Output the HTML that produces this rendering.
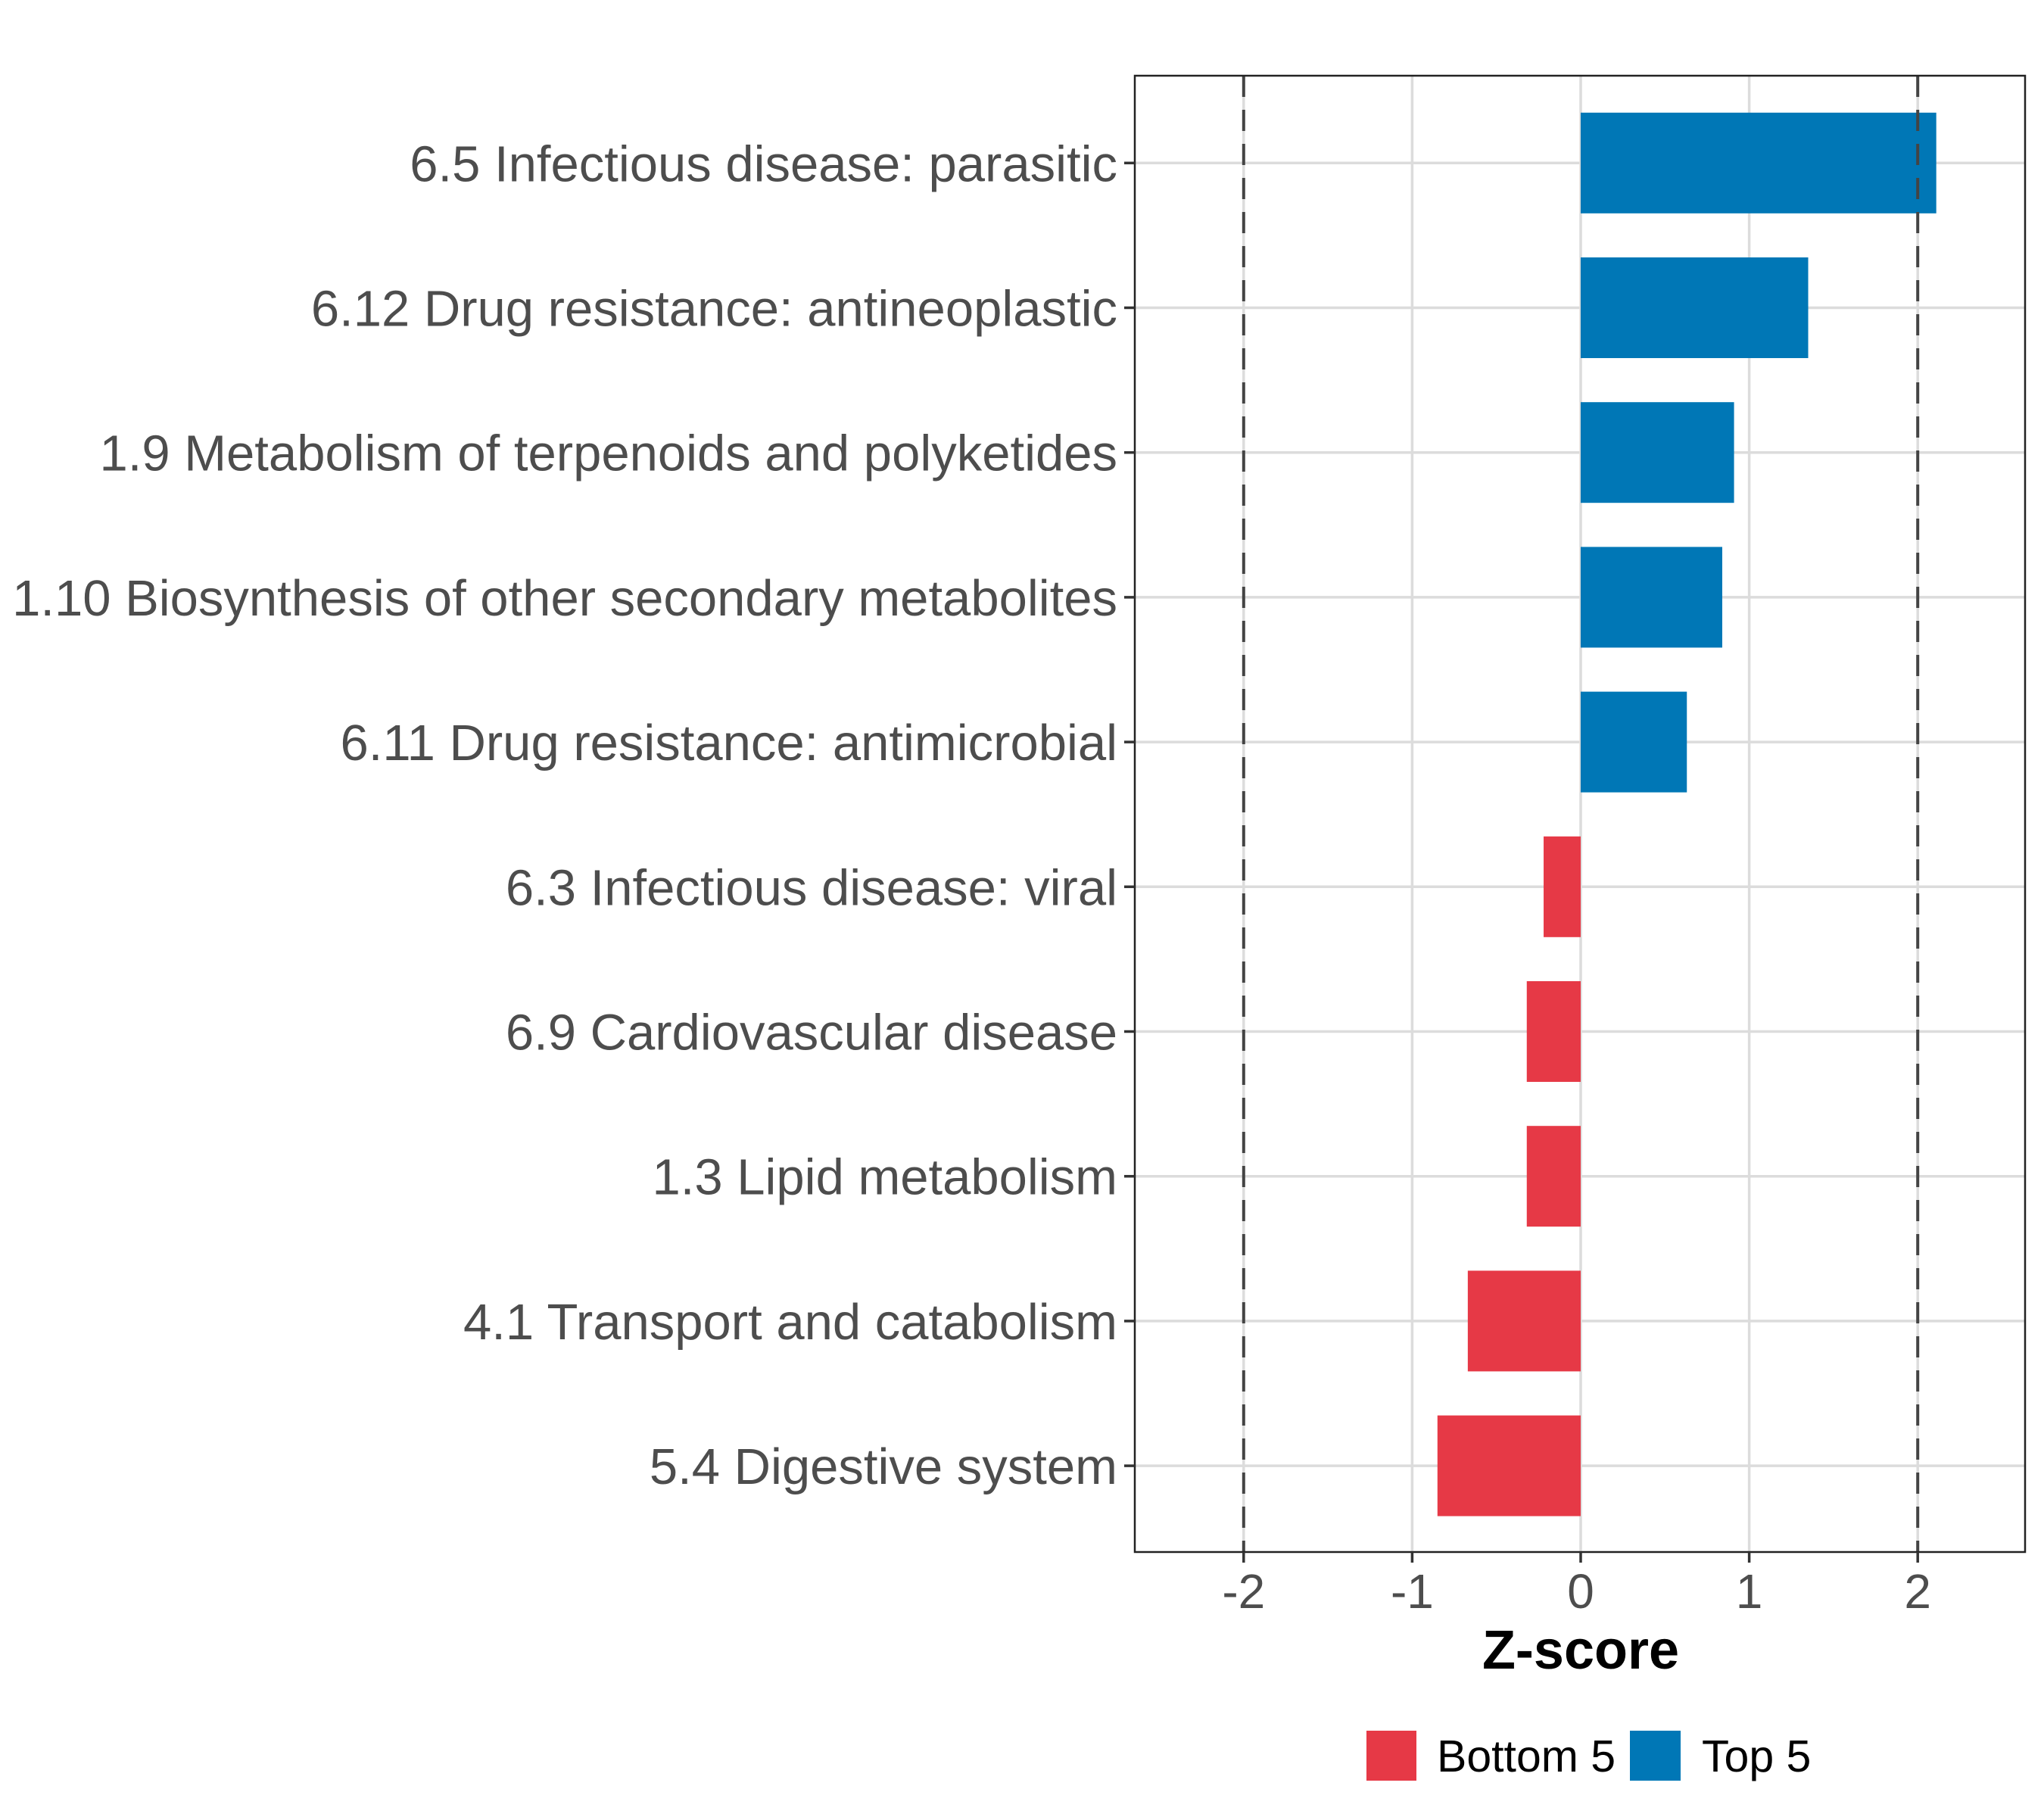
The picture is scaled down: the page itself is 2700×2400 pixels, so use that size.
<!DOCTYPE html>
<html><head><meta charset="utf-8"><style>html,body{margin:0;padding:0;background:#fff}svg{display:block}</style></head>
<body>
<svg id="chart" xmlns="http://www.w3.org/2000/svg" width="2700" height="2400" viewBox="0 0 2700 2400" font-family="Liberation Sans, Arial, sans-serif">
<rect width="2700" height="2400" fill="#fff"/>
<g id="grid"></g>
<g id="bars"></g>
<g id="refs"></g>
<rect x="1499" y="100" width="1176" height="1950" fill="none" stroke="#222" stroke-width="2.5"/>
<g id="yaxis"></g>
<g id="xaxis"></g>
<text x="2088" y="2204" text-anchor="middle" font-size="72" font-weight="bold" fill="#000">Z-score</text>
<g>
<rect x="1805" y="2286" width="66" height="66" fill="#E63946"/>
<text x="1898" y="2340" font-size="59" fill="#000">Bottom 5</text>
<rect x="2153" y="2286" width="67" height="66" fill="#0077B6"/>
<text x="2248" y="2340" font-size="59" fill="#000">Top 5</text>
</g>
</svg>
<script>
const categories = ["6.5 Infectious disease: parasitic","6.12 Drug resistance: antineoplastic","1.9 Metabolism of terpenoids and polyketides","1.10 Biosynthesis of other secondary metabolites","6.11 Drug resistance: antimicrobial","6.3 Infectious disease: viral","6.9 Cardiovascular disease","1.3 Lipid metabolism","4.1 Transport and catabolism","5.4 Digestive system"];
const zscores = [2.11, 1.35, 0.91, 0.84, 0.63, -0.22, -0.32, -0.32, -0.67, -0.85];
const groups = ["Top 5","Top 5","Top 5","Top 5","Top 5","Bottom 5","Bottom 5","Bottom 5","Bottom 5","Bottom 5"];
const xTicks = [-2, -1, 0, 1, 2];
const xTickLabels = ["-2","-1","0","1","2"];
const refLines = [-2, 2];

const NS = "http://www.w3.org/2000/svg";
const L = 1499, R = 2675, T = 100, B = 2050;
const xMin = -2.646, xMax = 2.637;
const x = v => L + (v - xMin) / (xMax - xMin) * (R - L);
const step = 191.2, first = 215.3;
const y = i => first + i * step;
const barH = 133;
const colors = {"Top 5": "#0077B6", "Bottom 5": "#E63946"};
function mk(tag, attrs, parent) { const e = document.createElementNS(NS, tag); for (const k in attrs) e.setAttribute(k, attrs[k]); parent.appendChild(e); return e; }
const grid = document.getElementById('grid'), bars = document.getElementById('bars'), refs = document.getElementById('refs'), ya = document.getElementById('yaxis'), xa = document.getElementById('xaxis');
xTicks.forEach((t, i) => {
  const g = mk('line', {x1: x(t), x2: x(t), y1: T, y2: B, stroke: '#dcdcdc', 'stroke-width': 3.5}, grid);
  
  
  const tk = mk('line', {x1: x(t), x2: x(t), y1: B, y2: B + 14, stroke: '#333', 'stroke-width': 3.5}, xa);
  
  
  const tl = mk('text', {x: x(t), y: 2124, 'text-anchor': 'middle', 'font-size': 64, fill: '#4d4d4d'}, xa);
  tl.textContent = xTickLabels[i];
  
  
});
categories.forEach((c, i) => {
  const g = mk('line', {x1: L, x2: R, y1: y(i), y2: y(i), stroke: '#dcdcdc', 'stroke-width': 3.5}, grid);
  
  
  const v = zscores[i];
  const b = mk('rect', {x: Math.min(x(0), x(v)), y: y(i) - barH / 2, width: Math.abs(x(v) - x(0)), height: barH, fill: colors[groups[i]]}, bars);
  
  
  const tk = mk('line', {x1: L - 14, x2: L, y1: y(i), y2: y(i), stroke: '#333', 'stroke-width': 3.5}, ya);
  
  
  const tl = mk('text', {x: L - 23, y: y(i) + 24, 'text-anchor': 'end', 'font-size': 67, fill: '#4d4d4d'}, ya);
  tl.textContent = c;
  
  
});
refLines.forEach(r => {
  const l = mk('line', {x1: x(r), x2: x(r), y1: T, y2: B, stroke: '#444', 'stroke-width': 4, 'stroke-dasharray': '28 17'}, refs);
  
  
});
</script>
</body></html>
